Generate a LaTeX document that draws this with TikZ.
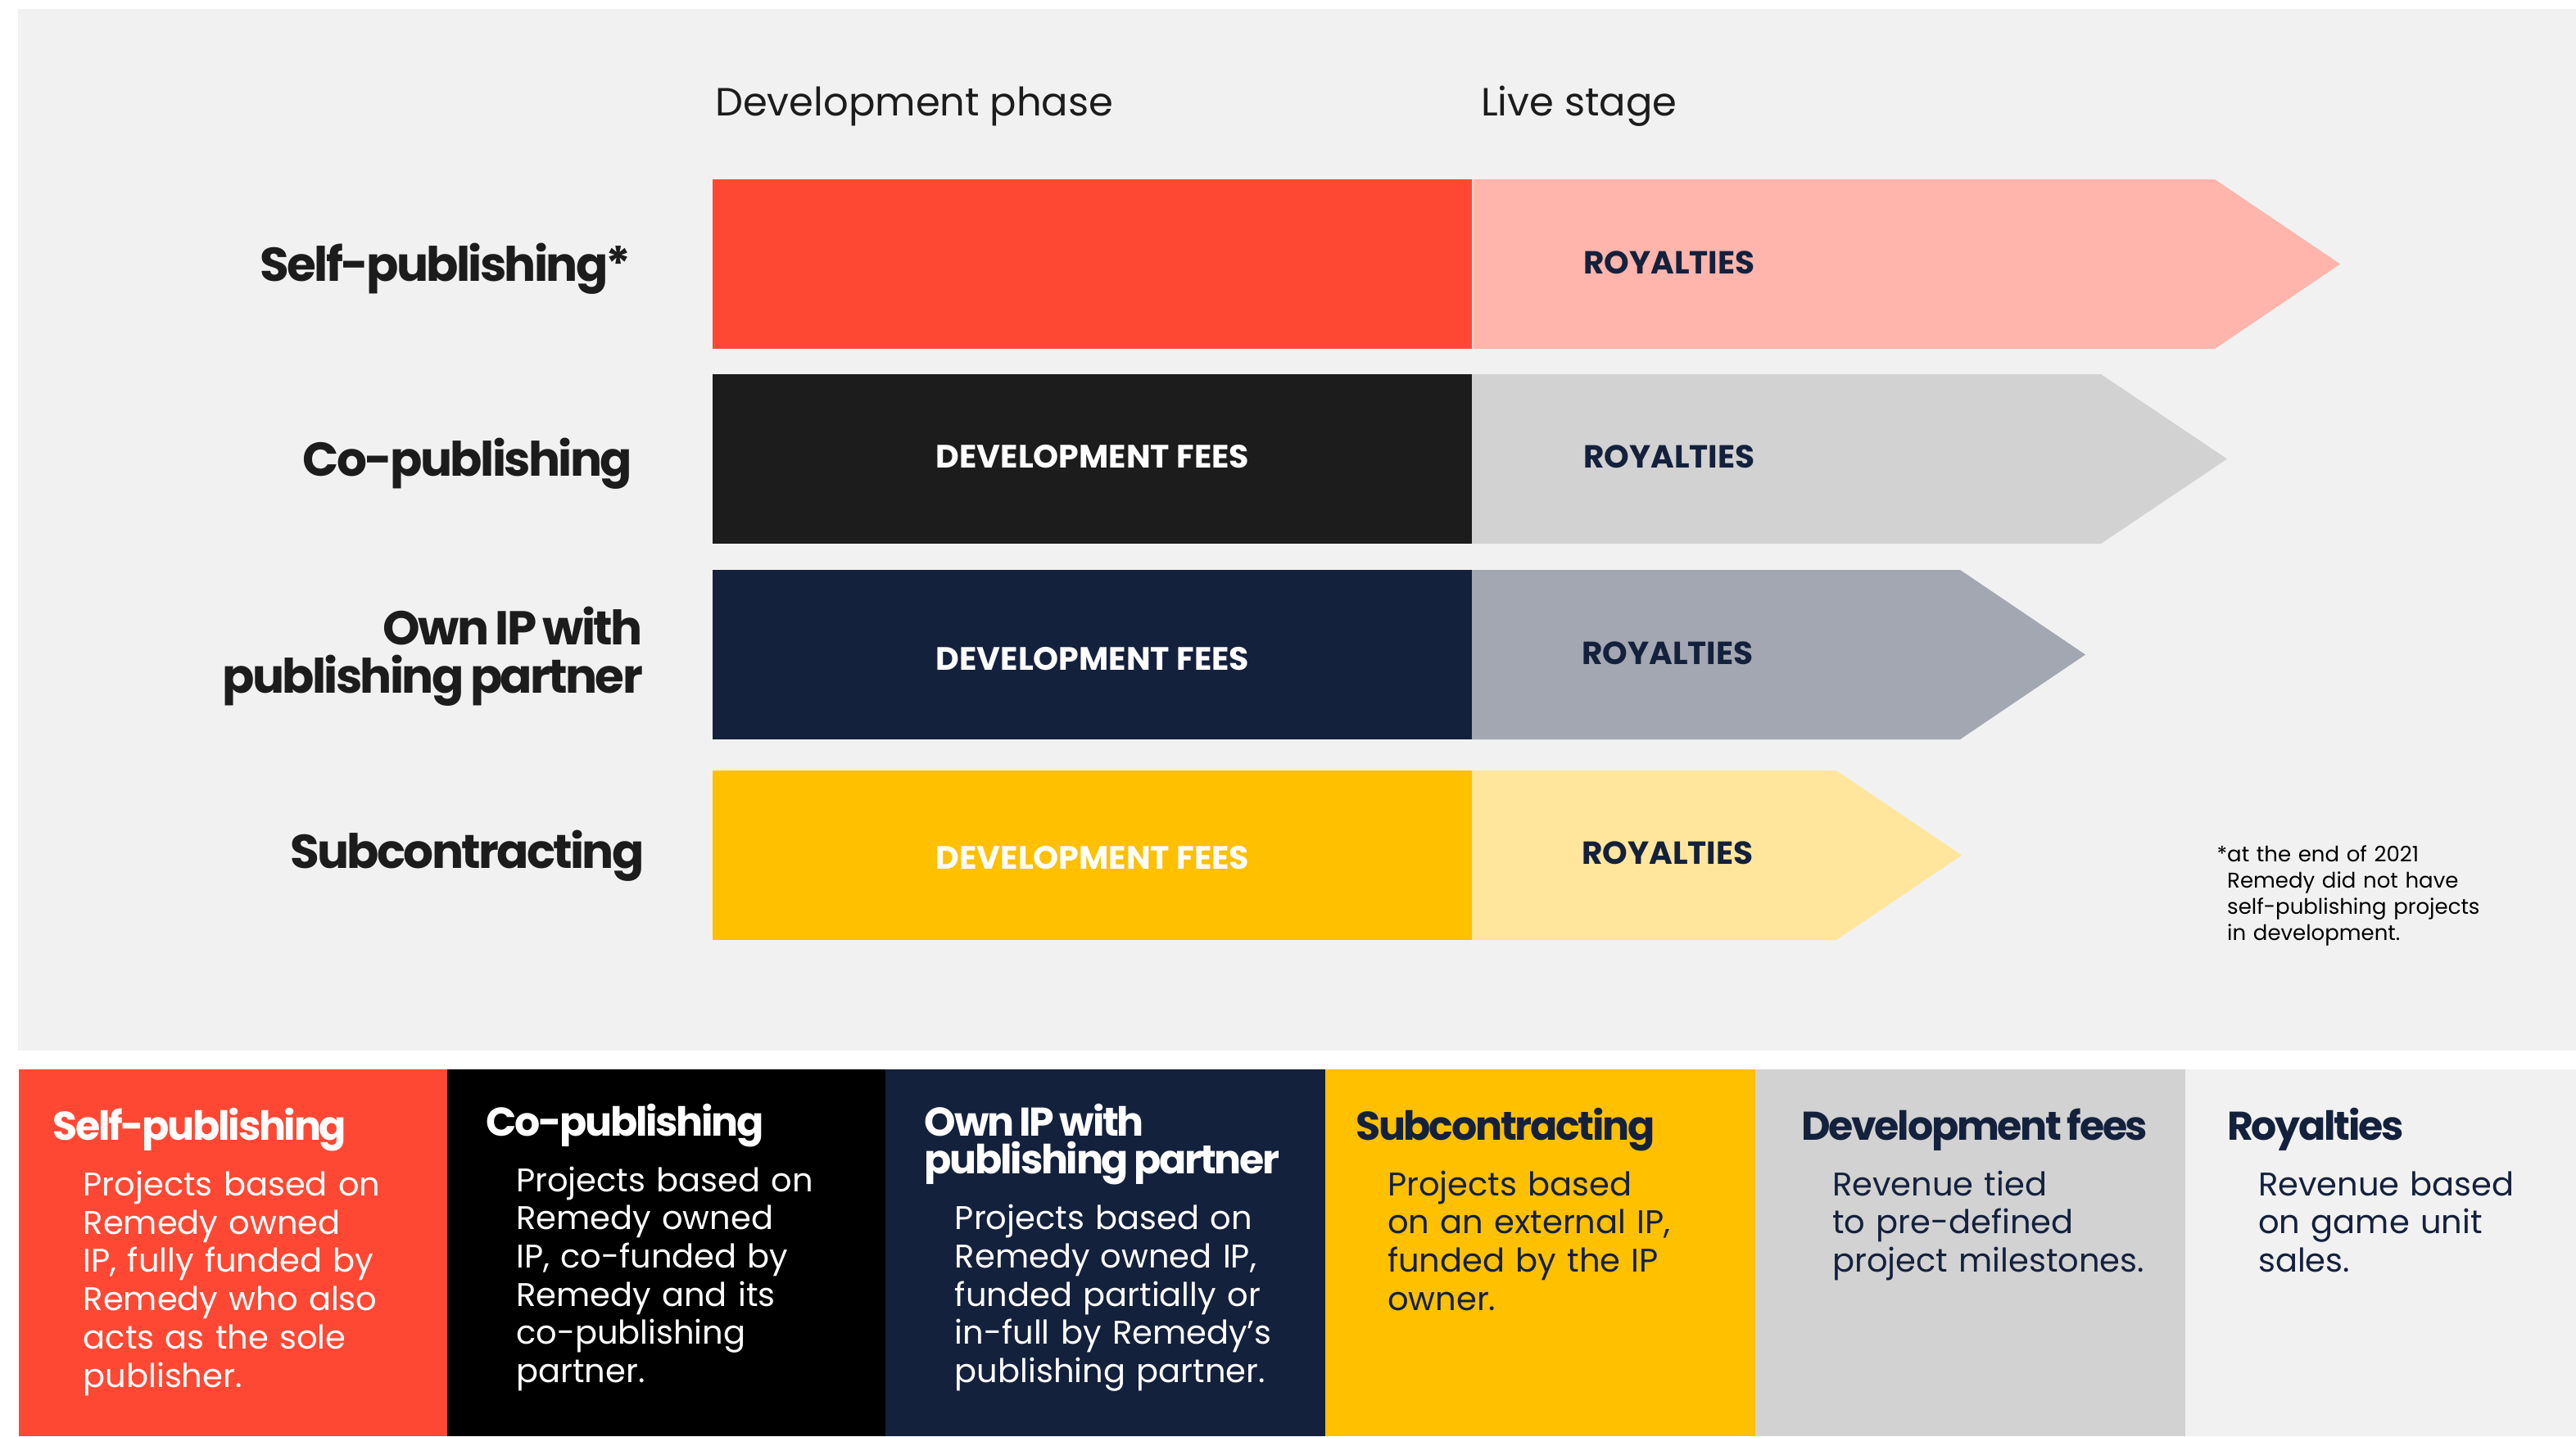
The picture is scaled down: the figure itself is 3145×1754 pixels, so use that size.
\documentclass[tikz,border=0pt]{standalone}
\usepackage{fontspec}
\setmainfont{Poppins}
\newfontfamily\tightfam{Poppins}[LetterSpace=-4.6]
\definecolor{panelbg}{HTML}{F1F1F1}
\definecolor{rred}{HTML}{FF4834}
\definecolor{rpink}{HTML}{FFB4AC}
\definecolor{rblack}{HTML}{1C1C1C}
\definecolor{rlgrey}{HTML}{D2D2D2}
\definecolor{rnavy}{HTML}{14213D}
\definecolor{rslate}{HTML}{A3A7B1}
\definecolor{ryellow}{HTML}{FFC000}
\definecolor{rlyellow}{HTML}{FFE69C}
\newcommand{\tightbold}{\tightfam\bfseries}
\newcommand{\bsp}{\hspace{0.13em}}
\begin{document}
\begin{tikzpicture}[x=1pt,y=-1pt,
  header/.style={anchor=base west,inner sep=0,font=\fontsize{48}{50}\selectfont,text=rblack},
  rowlabel/.style={anchor=base east,inner sep=0,font=\fontsize{58}{59}\selectfont\tightbold,text=rblack,align=right,text width=700pt},
  devtext/.style={anchor=base,inner sep=0,font=\fontsize{39.5}{40}\selectfont\bfseries,text=white},
  roytext/.style={anchor=base west,inner sep=0,font=\fontsize{39}{40}\selectfont\bfseries,text=rnavy},
  foot/.style={anchor=base west,inner sep=0,font=\fontsize{26}{31.8}\selectfont,text=black,align=left,text width=500pt},
  phead/.style={anchor=base west,inner sep=0,font=\fontsize{49}{46.7}\selectfont\tightbold,align=left,text width=500pt},
  pbody/.style={anchor=base west,inner sep=0,font=\fontsize{40}{46.7}\selectfont,align=left,text width=500pt}]
\useasboundingbox (0,0) rectangle (3145,1754);
\fill[white] (0,0) rectangle (3145,1754);
\fill[panelbg] (22,11) rectangle (3145,1283);

% headers
\node[header] (hdev) at (873,141.7) {Development phase};
\node[header] (hlive) at (1808,141.7) {Live stage};

% row 1
\fill[rred] (870,219) rectangle (1797,426);
\fill[rpink] (1797,219) -- (2704,219) -- (2857,322.5) -- (2704,426) -- (1797,426) -- cycle;
\fill[white!45!rpink] (1797,219) rectangle (1798.5,426);
\node[rowlabel] (l1) at (771,343) {Self-publishing*};
\node[roytext] (r1) at (1933,334) {ROYALTIES};

% row 2
\fill[rblack] (870,457) rectangle (1797,664);
\fill[rlgrey] (1797,457) -- (2565,457) -- (2719,560.5) -- (2565,664) -- (1797,664) -- cycle;
\node[rowlabel] (l2) at (772,581) {Co-publishing};
\node[devtext] (d2) at (1334,571.7) {DEVELOPMENT FEES};
\node[roytext] (r2) at (1933,571.7) {ROYALTIES};

% row 3
\fill[rnavy] (870,696) rectangle (1797,903);
\fill[rslate] (1797,696) -- (2393,696) -- (2546,799.5) -- (2393,903) -- (1797,903) -- cycle;
\node[rowlabel] (l3) at (785,787) {Own\bsp IP\bsp with\\publishing\bsp partner};
\node[devtext] (d3) at (1334,818) {DEVELOPMENT FEES};
\node[roytext] (r3) at (1931,811) {ROYALTIES};

% row 4
\fill[ryellow] (870,941) rectangle (1797,1148);
\fill[rlyellow] (1797,941) -- (2242,941) -- (2395,1044.5) -- (2242,1148) -- (1797,1148) -- cycle;
\node[rowlabel] (l4) at (787,1060) {Subcontracting};
\node[devtext] (d4) at (1334,1061) {DEVELOPMENT FEES};
\node[roytext] (r4) at (1931,1055) {ROYALTIES};

% footnote
\node[foot] (fn) at (2719,1052.7) {\llap{*}at the end of 2021\\Remedy did not have\\self-publishing projects\\in development.};

% bottom panels
\fill[rred] (23,1306) rectangle (546,1754);
\fill[black] (546,1306) rectangle (1081,1754);
\fill[rnavy] (1081,1306) rectangle (1618,1754);
\fill[ryellow] (1618,1306) rectangle (2143,1754);
\fill[rlgrey] (2143,1306) rectangle (2668,1754);
\fill[panelbg] (2668,1306) rectangle (3145,1754);

\node[phead,text=white] (h1) at (64,1392) {Self-publishing};
\node[pbody,text=white] (b1) at (101.5,1460.5) {Projects based on\\Remedy owned\\IP, fully funded by\\Remedy who also\\acts as the sole\\publisher.};

\node[phead,text=white] (h2) at (593,1387) {Co-publishing};
\node[pbody,text=white] (b2) at (630,1455) {Projects based on\\Remedy owned\\IP, co-funded by\\Remedy and its\\co-publishing\\partner.};

\node[phead,text=white] (h3) at (1128.6,1387) {Own\bsp IP\bsp with\\publishing\bsp partner};
\node[pbody,text=white] (b3) at (1165.7,1501.7) {Projects based on\\Remedy owned IP,\\funded partially or\\in-full by Remedy’s\\publishing partner.};

\node[phead,text=rnavy] (h4) at (1655,1392) {Subcontracting};
\node[pbody,text=rnavy] (b4) at (1694,1460) {Projects based\\on an external IP,\\funded by the IP\\owner.};

\node[phead,text=rnavy] (h5) at (2199,1392) {Development\bsp fees};
\node[pbody,text=rnavy] (b5) at (2237,1460) {Revenue tied\\to pre-defined\\project milestones.};

\node[phead,text=rnavy] (h6) at (2719,1392) {Royalties};
\node[pbody,text=rnavy] (b6) at (2757,1460) {Revenue based\\on game unit\\sales.};
\end{tikzpicture}
\end{document}
